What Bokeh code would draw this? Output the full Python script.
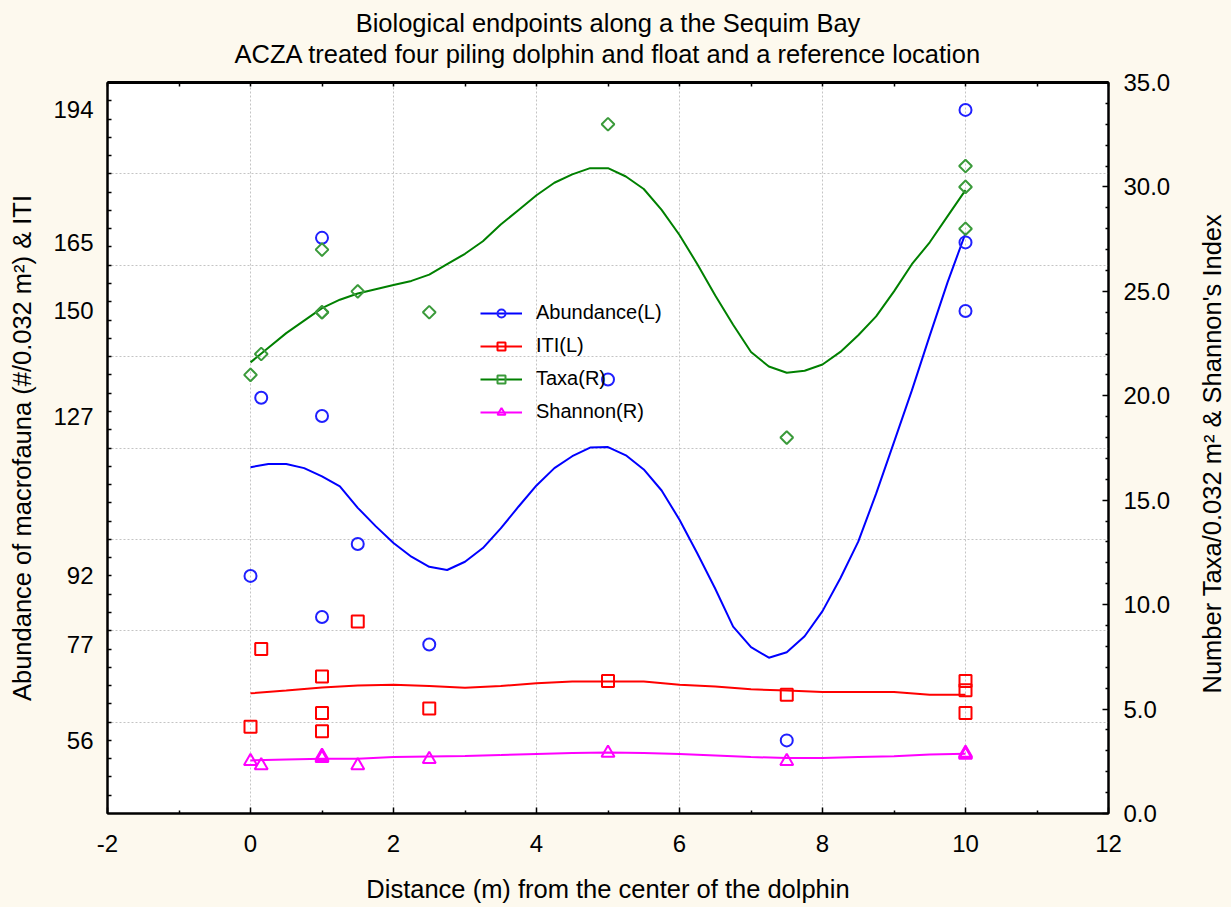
import math
from bokeh.plotting import figure
from bokeh.models import (Range1d, LinearAxis, FixedTicker, Legend, LegendItem,
                          PrintfTickFormatter)
from bokeh.embed import file_html
from bokeh.resources import INLINE

# ---------------- data ----------------
dist = [0, 0.15, 1, 1, 1, 1.5, 2.5, 5, 7.5, 10, 10, 10]
abundance = [92, 131, 166, 127, 83, 99, 77, 135, 56, 194, 165, 150]
iti = [59, 76, 70, 62, 58, 82, 63, 69, 66, 69, 67, 62]
taxa = [21, 22, 27, 24, 24, 25, 24, 33, 18, 31, 30, 28]
shannon = [2.5, 2.3, 2.7, 2.75, 2.65, 2.3, 2.6, 2.9, 2.5, 2.85, 2.8, 2.9]

# smoothed fits
fit_x_q = [0, 0.25, 0.5, 0.75, 1, 1.25, 1.5, 1.75, 2, 2.25, 2.5, 2.75, 3, 3.25,
           3.5, 3.75, 4, 4.25, 4.5, 4.75, 5, 5.25, 5.5, 5.75, 6, 6.25, 6.5,
           6.75, 7, 7.25, 7.5, 7.75, 8, 8.25, 8.5, 8.75, 9, 9.25, 9.5, 9.75, 10]
abundance_fit = [115.8, 116.5, 116.5, 115.6, 113.8, 111.6, 106.9, 102.9, 99.2,
                 96.2, 94.0, 93.3, 95.1, 98.1, 102.4, 107.2, 111.8, 115.6,
                 118.2, 120.1, 120.2, 118.4, 115.3, 110.7, 104.3, 96.9, 89.2,
                 80.9, 76.4, 74.1, 75.3, 78.8, 84.3, 91.5, 99.5, 110.0, 121.3,
                 132.6, 144.6, 156.3, 167.0]
taxa_fit = [21.6, 22.3, 23.0, 23.6, 24.2, 24.6, 24.9, 25.1, 25.3, 25.5, 25.8,
            26.3, 26.8, 27.4, 28.2, 28.9, 29.6, 30.2, 30.6, 30.9, 30.9, 30.5,
            29.9, 28.9, 27.7, 26.3, 24.8, 23.4, 22.1, 21.4, 21.1, 21.2, 21.5,
            22.1, 22.9, 23.8, 25.0, 26.3, 27.35, 28.6, 29.85]
fit_x_h = [0, 0.5, 1, 1.5, 2, 2.5, 3, 3.5, 4, 4.5, 5, 5.5, 6, 6.5, 7, 7.5, 8,
           8.5, 9, 9.5, 10]
iti_fit = [66.3, 66.9, 67.6, 68.0, 68.2, 67.9, 67.5, 67.9, 68.5, 68.9, 68.9,
           68.9, 68.2, 67.8, 67.2, 66.9, 66.6, 66.6, 66.6, 66.0, 66.0]
shannon_fit = [2.54, 2.58, 2.62, 2.62, 2.70, 2.73, 2.75, 2.80, 2.85, 2.90,
               2.92, 2.90, 2.85, 2.78, 2.70, 2.66, 2.66, 2.70, 2.74, 2.82, 2.86]

x_major = [-2, 0, 2, 4, 6, 8, 10, 12]
x_minor = [-1, 1, 3, 5, 7, 9, 11]
x_top = [-2, -1, 0, 1, 2, 3, 4, 5, 6, 7, 8, 9, 10, 11, 12]
x_grid = [0, 2, 4, 6, 8, 10]
left_labels = [56, 77, 92, 127, 150, 165, 194]
left_grid = [60, 80, 100, 120, 140, 160, 180]
left_minor = [44, 48, 52, 56, 60, 64, 68, 72, 76, 80, 84, 88, 92, 96, 100, 104,
              108, 112, 116, 120, 124, 128, 132, 136, 140, 144, 148, 152, 156,
              160, 164, 168, 172, 176, 180, 184, 188, 192, 196]
right_major = [0, 5, 10, 15, 20, 25, 30, 35]
right_minor = [1, 2, 3, 4, 6, 7, 8, 9, 11, 12, 13, 14, 16, 17, 18, 19, 21, 22,
               23, 24, 26, 27, 28, 29, 31, 32, 33, 34]

title_lines = ["Biological endpoints along a the Sequim Bay",
               "ACZA treated four piling dolphin and float and a reference location"]
right_title = "Number Taxa/0.032 m² & Shannon's Index"

BG = "#FDF9EE"
FONT = "Liberation Sans"
TICK_FS = "24px"
LAB_FS = "25.5px"

p = figure(frame_width=1001, frame_height=731,
           x_range=Range1d(-2, 12), y_range=Range1d(40, 200),
           output_backend="svg", toolbar_location=None, title_location=None,
           min_border_left=107, min_border_right=123,
           min_border_top=82, min_border_bottom=94,
           x_axis_location=None, y_axis_location=None)
# "right": Taxa / Shannon scale; "title_pos": pixel-like scale used only to
# place the right-hand axis title
p.extra_y_ranges = {"right": Range1d(0, 35), "title_pos": Range1d(0, 731)}
p.border_fill_color = BG
p.background_fill_color = "white"
p.outline_line_color = "black"
p.outline_line_width = 2


def style_axis(ax):
    ax.axis_line_color = "black"
    ax.axis_line_width = 2
    ax.major_tick_line_color = "black"
    ax.minor_tick_line_color = "black"
    ax.major_tick_line_width = 1.5
    ax.minor_tick_line_width = 1.5
    ax.major_tick_out = 0
    ax.minor_tick_out = 0
    ax.major_tick_in = 6
    ax.minor_tick_in = 3
    ax.major_label_text_font = FONT
    ax.major_label_text_font_size = TICK_FS
    ax.major_label_text_color = "black"
    ax.axis_label_text_font = FONT
    ax.axis_label_text_font_size = LAB_FS
    ax.axis_label_text_font_style = "normal"
    ax.axis_label_text_color = "black"


# bottom axis
xb = LinearAxis(ticker=FixedTicker(ticks=x_major, minor_ticks=x_minor),
                axis_label="Distance (m) from the center of the dolphin")
style_axis(xb)
xb.major_label_overrides = {-2: "-2"}
xb.major_label_standoff = 21
xb.axis_label_standoff = 20
p.add_layout(xb, "below")

# top axis: ticks only, its label is the second title line
xt = LinearAxis(ticker=FixedTicker(ticks=[], minor_ticks=x_top),
                axis_label=title_lines[1])
style_axis(xt)
xt.minor_tick_in = 4
xt.axis_line_width = 3
xt.major_label_standoff = 0
xt.axis_label_standoff = 15
p.add_layout(xt, "above")

# outer empty top axis carrying the first title line
xt2 = LinearAxis(ticker=FixedTicker(ticks=[]), axis_label=title_lines[0])
style_axis(xt2)
xt2.axis_line_color = None
xt2.major_tick_line_color = None
xt2.minor_tick_line_color = None
xt2.major_label_standoff = 0
xt2.axis_label_standoff = 0
p.add_layout(xt2, "above")

# left axis
yl = LinearAxis(ticker=FixedTicker(ticks=left_labels, minor_ticks=left_minor),
                axis_label="Abundance of macrofauna (#/0.032 m²) & ITI")
style_axis(yl)
yl.major_tick_in = 0
yl.minor_tick_in = 4
yl.major_label_standoff = 14
yl.axis_label_standoff = 14
p.add_layout(yl, "left")

# right axis: ticks and labels
yr = LinearAxis(y_range_name="right",
                ticker=FixedTicker(ticks=right_major, minor_ticks=right_minor),
                formatter=PrintfTickFormatter(format="%.1f"))
style_axis(yr)
yr.major_label_standoff = 15
p.add_layout(yr, "right")

# right axis title, reading bottom-to-top, starting 120 px above the frame bottom
yr2 = LinearAxis(y_range_name="title_pos", ticker=FixedTicker(ticks=[120]),
                 major_label_overrides={120: right_title})
style_axis(yr2)
yr2.axis_line_color = None
yr2.major_tick_line_color = None
yr2.minor_tick_line_color = None
yr2.major_tick_in = 0
yr2.major_label_text_font_size = LAB_FS
yr2.major_label_orientation = math.pi / 2
yr2.major_label_standoff = 38
p.add_layout(yr2, "right")

# grids
p.xgrid.ticker = FixedTicker(ticks=x_grid)
p.ygrid.ticker = FixedTicker(ticks=left_grid)
for g in (p.xgrid, p.ygrid):
    g.grid_line_color = "#C4C4C4"
    g.grid_line_dash = "2 2"
    g.grid_line_width = 1

# fits
l_ab = p.line(fit_x_q, abundance_fit, line_color="#0000FF", line_width=2)
l_iti = p.line(fit_x_h, iti_fit, line_color="#FF0000", line_width=2)
l_tx = p.line(fit_x_q, taxa_fit, line_color="#008000", line_width=2,
              y_range_name="right")
l_sh = p.line(fit_x_h, shannon_fit, line_color="#FF00FF", line_width=2,
              y_range_name="right")

# points
s_ab = p.scatter(dist, abundance, marker="circle", size=12, fill_color=None,
                 line_color="#2020FF", line_width=2)
s_iti = p.scatter(dist, iti, marker="square", size=12, fill_color=None,
                  line_color="#FF0000", line_width=2)
s_tx = p.scatter(dist, taxa, marker="square", angle=math.pi / 4, size=9,
                 fill_color=None, line_color="#3A9A3A", line_width=2,
                 y_range_name="right")
s_sh = p.scatter(dist, shannon, marker="triangle", size=13, fill_color=None,
                 line_color="#FF00FF", line_width=2, y_range_name="right")

legend = Legend(items=[
    LegendItem(label="Abundance(L)", renderers=[l_ab, s_ab]),
    LegendItem(label="ITI(L)", renderers=[l_iti, s_iti]),
    LegendItem(label="Taxa(R)", renderers=[l_tx, s_tx]),
    LegendItem(label="Shannon(R)", renderers=[l_sh, s_sh]),
], location=(373, 390), orientation="vertical")
legend.margin = 0
legend.padding = 0
legend.border_line_color = None
legend.background_fill_alpha = 0
legend.label_text_font = FONT
legend.label_text_font_size = "20px"
legend.label_text_color = "black"
legend.glyph_width = 42
legend.glyph_height = 20
legend.label_height = 20
legend.spacing = 10
legend.label_standoff = 14
p.add_layout(legend, "center")

html = file_html(p, INLINE, title="chart")
html = html.replace(
    "<head>",
    "<head><style>html,body{background:%s;margin:0;overflow:hidden;}</style>" % BG, 1)
open("out.html", "w").write(html)
